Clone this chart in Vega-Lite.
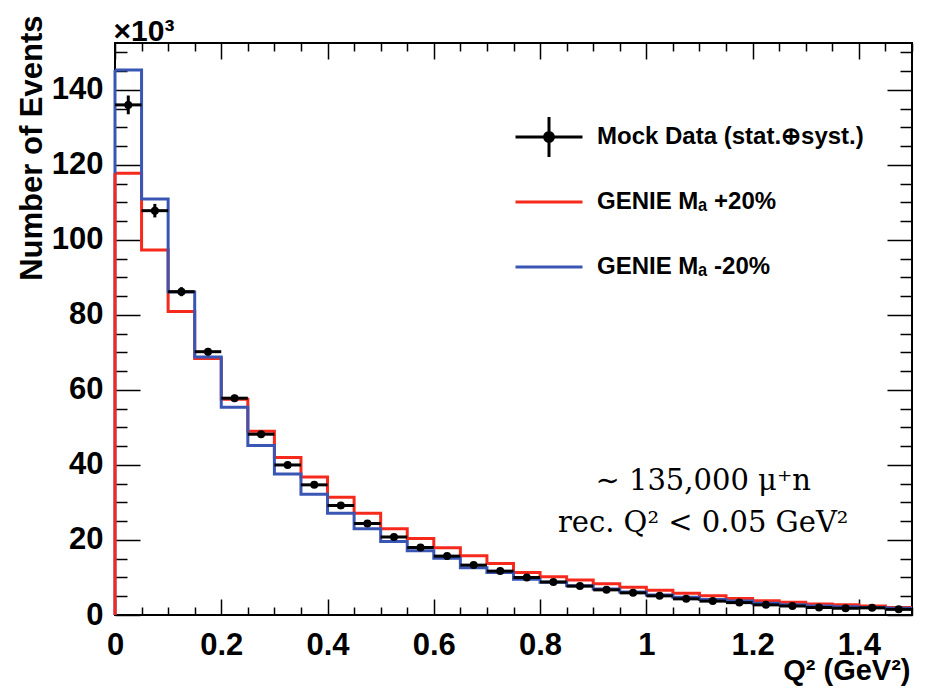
{
  "$schema": "https://vega.github.io/schema/vega-lite/v6.json",
  "autosize": {"type": "none"},
  "padding": {"left": 115, "top": 43, "right": 15, "bottom": 76},
  "width": 797,
  "height": 572,
  "background": "white",
  "datasets": {
    "bins": [
      {"lo": 0, "hi": 0.05, "mid": 0.025, "data": 136.0, "err": 2.5, "plus": 117.8, "minus": 145.3},
      {"lo": 0.05, "hi": 0.1, "mid": 0.075, "data": 107.8, "err": 1.8, "plus": 97.3, "minus": 110.9},
      {"lo": 0.1, "hi": 0.15, "mid": 0.125, "data": 86.2, "err": 1.2, "plus": 80.9, "minus": 86.1},
      {"lo": 0.15, "hi": 0.2, "mid": 0.175, "data": 70.2, "err": 1.0, "plus": 68.4, "minus": 68.8},
      {"lo": 0.2, "hi": 0.25, "mid": 0.225, "data": 57.8, "err": 0.9, "plus": 57.5, "minus": 55.4},
      {"lo": 0.25, "hi": 0.3, "mid": 0.275, "data": 48.2, "err": 0.8, "plus": 49.0, "minus": 45.2},
      {"lo": 0.3, "hi": 0.35, "mid": 0.325, "data": 40.0, "err": 0.8, "plus": 42.0, "minus": 37.6},
      {"lo": 0.35, "hi": 0.4, "mid": 0.375, "data": 34.7, "err": 0.7, "plus": 36.8, "minus": 32.2},
      {"lo": 0.4, "hi": 0.45, "mid": 0.425, "data": 29.2, "err": 0.7, "plus": 31.4, "minus": 27.1},
      {"lo": 0.45, "hi": 0.5, "mid": 0.475, "data": 24.4, "err": 0.6, "plus": 27.1, "minus": 23.0},
      {"lo": 0.5, "hi": 0.55, "mid": 0.525, "data": 20.8, "err": 0.6, "plus": 23.0, "minus": 19.6},
      {"lo": 0.55, "hi": 0.6, "mid": 0.575, "data": 18.0, "err": 0.5, "plus": 20.4, "minus": 17.1},
      {"lo": 0.6, "hi": 0.65, "mid": 0.625, "data": 15.7, "err": 0.5, "plus": 17.9, "minus": 15.1},
      {"lo": 0.65, "hi": 0.7, "mid": 0.675, "data": 13.3, "err": 0.5, "plus": 15.8, "minus": 12.6},
      {"lo": 0.7, "hi": 0.75, "mid": 0.725, "data": 11.7, "err": 0.4, "plus": 13.7, "minus": 11.3},
      {"lo": 0.75, "hi": 0.8, "mid": 0.775, "data": 10.0, "err": 0.4, "plus": 11.3, "minus": 9.5},
      {"lo": 0.8, "hi": 0.85, "mid": 0.825, "data": 8.8, "err": 0.4, "plus": 10.2, "minus": 8.7},
      {"lo": 0.85, "hi": 0.9, "mid": 0.875, "data": 7.7, "err": 0.3, "plus": 9.3, "minus": 7.8},
      {"lo": 0.9, "hi": 0.95, "mid": 0.925, "data": 6.7, "err": 0.3, "plus": 8.3, "minus": 6.9},
      {"lo": 0.95, "hi": 1.0, "mid": 0.975, "data": 5.9, "err": 0.3, "plus": 7.4, "minus": 6.1},
      {"lo": 1.0, "hi": 1.05, "mid": 1.025, "data": 5.1, "err": 0.3, "plus": 6.6, "minus": 5.3},
      {"lo": 1.05, "hi": 1.1, "mid": 1.075, "data": 4.3, "err": 0.3, "plus": 5.8, "minus": 4.7},
      {"lo": 1.1, "hi": 1.15, "mid": 1.125, "data": 3.7, "err": 0.2, "plus": 5.1, "minus": 4.1},
      {"lo": 1.15, "hi": 1.2, "mid": 1.175, "data": 3.3, "err": 0.2, "plus": 4.4, "minus": 3.7},
      {"lo": 1.2, "hi": 1.25, "mid": 1.225, "data": 2.7, "err": 0.2, "plus": 3.8, "minus": 3.1},
      {"lo": 1.25, "hi": 1.3, "mid": 1.275, "data": 2.4, "err": 0.2, "plus": 3.4, "minus": 2.7},
      {"lo": 1.3, "hi": 1.35, "mid": 1.325, "data": 2.0, "err": 0.2, "plus": 2.9, "minus": 2.4},
      {"lo": 1.35, "hi": 1.4, "mid": 1.375, "data": 1.8, "err": 0.2, "plus": 2.7, "minus": 2.2},
      {"lo": 1.4, "hi": 1.45, "mid": 1.425, "data": 1.9, "err": 0.2, "plus": 2.4, "minus": 2.0},
      {"lo": 1.45, "hi": 1.5, "mid": 1.475, "data": 1.5, "err": 0.2, "plus": 2.0, "minus": 1.8}
    ]
  },
  "data": {"name": "bins"},
  "layer": [
    {
      "transform": [
        {"fold": ["plus", "minus"], "as": ["series", "count"]},
        {"fold": ["lo", "hi"], "as": ["edge", "xe"]}
      ],
      "mark": {"type": "line", "strokeWidth": 3, "clip": true},
      "encoding": {
        "x": {
          "field": "xe", "type": "quantitative",
          "scale": {"domain": [0, 1.5], "nice": false, "zero": false},
          "axis": {
            "orient": "bottom",
            "values": [0,0.05,0.1,0.15,0.2,0.25,0.3,0.35,0.4,0.45,0.5,0.55,0.6,0.65,0.7,0.75,0.8,0.85,0.9,0.95,1,1.05,1.1,1.15,1.2,1.25,1.3,1.35,1.4,1.45,1.5],
            "format": "~g",
            "labelExpr": "abs(datum.value*5-round(datum.value*5)) < 0.001 ? datum.label : ''",
            "tickSize": {"condition": {"test": "abs(datum.value*5-round(datum.value*5)) < 0.001", "value": -16}, "value": -8},
            "labelPadding": 31,
            "labelFontSize": 31,
            "labelOverlap": false,
            "labelFlush": false,
            "title": "Q² (GeV²)",
            "titleFontSize": 29,
            "titleX": 795,
            "titleY": 64,
            "titleAlign": "right",
            "titleBaseline": "alphabetic",
            "titleAnchor": null
          }
        },
        "y": {
          "field": "count", "type": "quantitative",
          "scale": {"domain": [0, 152.5], "nice": false},
          "axis": {
            "orient": "left",
            "values": [0,5,10,15,20,25,30,35,40,45,50,55,60,65,70,75,80,85,90,95,100,105,110,115,120,125,130,135,140,145,150],
            "format": "d",
            "labelExpr": "datum.value % 20 === 0 ? datum.label : ''",
            "tickSize": {"condition": {"test": "datum.value % 20 === 0", "value": -25}, "value": -12},
            "labelPadding": 37,
            "labelFontSize": 31,
            "labelOverlap": false,
            "labelFlush": false,
            "title": "Number of Events",
            "titleFontSize": 31,
            "titleX": -83,
            "titleY": -28,
            "titleAngle": -90,
            "titleAlign": "right",
            "titleBaseline": "middle",
            "titleAnchor": null
          }
        },
        "color": {
          "field": "series", "type": "nominal",
          "scale": {"domain": ["data", "plus", "minus"], "range": ["black", "#f52a1d", "#3a56b4"]},
          "legend": {
            "orient": "none",
            "legendX": 410,
            "legendY": 70,
            "title": null,
            "padding": 0,
            "labelExpr": "datum.value === 'data' ? 'Mock Data (stat.⊕syst.)' : (datum.value === 'plus' ? 'GENIE Mₐ +20%' : 'GENIE Mₐ -20%')",
            "labelFont": "Liberation Sans",
            "labelFontWeight": "bold",
            "labelFontSize": 24,
            "labelColor": "black",
            "labelLimit": 500,
            "labelOffset": 24,
            "symbolSize": 1995,
            "symbolType": "M0,-0.9M0,0.9M-1.5,0H1.5",
            "symbolStrokeWidth": 3,
            "rowPadding": 11,
            "encode": {
              "symbols": {
                "update": {
                  "shape": {"signal": "datum.value === 'data' ? 'M-1.5,0H1.5M0,-0.9V0.9M0.2,0A0.2,0.2,0,1,1,-0.2,0A0.2,0.2,0,1,1,0.2,0' : 'M0,-0.9M0,0.9M-1.5,0H1.5'"},
                  "fill": {"scale": "color", "field": "value"},
                  "stroke": {"scale": "color", "field": "value"},
                  "strokeWidth": {"value": 3},
                  "opacity": {"value": 1}
                }
              }
            }
          }
        },
        "detail": {"field": "series"},
        "order": [{"field": "lo", "type": "quantitative"}, {"field": "xe", "type": "quantitative"}]
      }
    },
    {
      "transform": [
        {"filter": "datum.lo === 0"},
        {"fold": ["minus", "plus"], "as": ["series", "count"]}
      ],
      "mark": {"type": "rule", "strokeWidth": 3},
      "encoding": {
        "x": {"datum": 0, "type": "quantitative", "axis": null},
        "y": {"field": "count", "type": "quantitative", "axis": null},
        "y2": {"datum": 0},
        "color": {"field": "series", "type": "nominal", "legend": null}
      }
    },
    {
      "mark": {"type": "rule", "strokeWidth": 3, "color": "black"},
      "encoding": {
        "x": {
          "field": "lo", "type": "quantitative",
          "axis": {
            "orient": "top",
            "values": [0,0.05,0.1,0.15,0.2,0.25,0.3,0.35,0.4,0.45,0.5,0.55,0.6,0.65,0.7,0.75,0.8,0.85,0.9,0.95,1,1.05,1.1,1.15,1.2,1.25,1.3,1.35,1.4,1.45,1.5],
            "labels": false,
            "title": "×10³",
            "titleFontSize": 30,
            "titleFontWeight": "bold",
            "titleX": -2,
            "titleY": -3,
            "titleAlign": "left",
            "titleBaseline": "alphabetic",
            "titleAnchor": null,
            "tickSize": {"condition": {"test": "abs(datum.value*5-round(datum.value*5)) < 0.001", "value": -16}, "value": -8}
          }
        },
        "x2": {"field": "hi"},
        "y": {
          "field": "data", "type": "quantitative",
          "axis": {
            "orient": "right",
            "values": [0,5,10,15,20,25,30,35,40,45,50,55,60,65,70,75,80,85,90,95,100,105,110,115,120,125,130,135,140,145,150],
            "labels": false,
            "title": null,
            "tickSize": {"condition": {"test": "datum.value % 20 === 0", "value": -25}, "value": -12}
          }
        }
      }
    },
    {
      "mark": {"type": "errorbar", "ticks": false, "thickness": 3, "color": "black"},
      "encoding": {
        "x": {"field": "mid", "type": "quantitative", "axis": null},
        "y": {"field": "data", "type": "quantitative", "axis": null},
        "yError": {"field": "err"}
      }
    },
    {
      "mark": {"type": "circle", "size": 64, "color": "black", "opacity": 1},
      "encoding": {
        "x": {"field": "mid", "type": "quantitative", "axis": null},
        "y": {"field": "data", "type": "quantitative", "axis": null}
      }
    },
    {
      "data": {"values": [{}]},
      "mark": {
        "type": "text",
        "text": ["∼ 135,000 μ⁺n", "rec. Q² < 0.05 GeV²"],
        "font": "DejaVu Serif",
        "fontSize": 29,
        "lineHeight": 41.5,
        "align": "center",
        "baseline": "alphabetic",
        "color": "black"
      },
      "encoding": {
        "x": {"datum": 1.107, "type": "quantitative", "axis": null},
        "y": {"datum": 33.3, "type": "quantitative", "axis": null}
      }
    }
  ],
  "resolve": {"axis": {"x": "independent", "y": "independent"}},
  "config": {
    "view": {"stroke": "black", "strokeWidth": 2},
    "axis": {
      "domain": false,
      "grid": false,
      "labelColor": "black",
      "titleColor": "black",
      "tickColor": "black",
      "tickWidth": 1.5,
      "labelFont": "Liberation Sans",
      "labelFontWeight": "bold",
      "titleFont": "Liberation Sans",
      "titleFontWeight": "bold"
    }
  }
}
